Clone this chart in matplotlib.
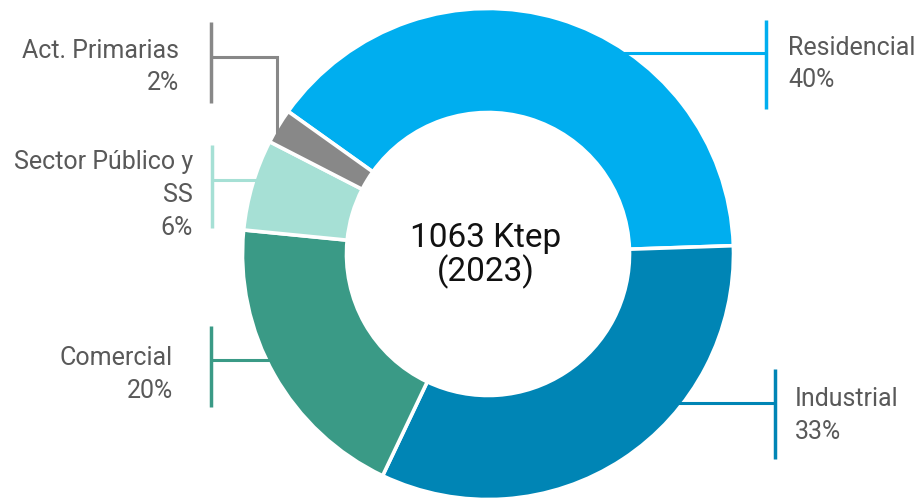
import matplotlib.pyplot as plt

W, H = 920, 498

sectors = ["Residencial", "Industrial", "Comercial", "Sector Público y\nSS", "Act. Primarias"]
shares = [39.6, 32.6, 19.5, 6.0, 2.3]
share_labels = ["40%", "33%", "20%", "6%", "2%"]
colors = ["#00AEEF", "#0085B5", "#3A9A86", "#A6E0D5", "#888888"]
total_text = ["1063 Ktep", "(2023)"]

# ring geometry in pixels (y measured from the top of the image)
cx, cy_top, r_out, ring = 488, 254, 245.5, 104
cy = H - cy_top

# leader layout: side, bar x, bar top, bar bottom, elbow y, text x, first baseline, elbow x
leaders = [
    ("right", 766, 20, 109, 53, 788, 54.5, None),
    ("right", 775, 369, 459, 403, 795, 406.5, None),
    ("left", 211, 326, 407, 360, 173, 365, None),
    ("left", 212, 145, 228, 180, 193, 169, None),
    ("left", 211, 22, 103, 57, 179, 57.5, 277),
]
line_step = 32.8

plt.rcParams["font.family"] = ["Roboto", "DejaVu Sans"]

fig = plt.figure(figsize=(W / 100, H / 100), dpi=100)
ax = fig.add_axes([0, 0, 1, 1])

ax.pie(shares, colors=colors, startangle=144.5, counterclock=False,
       center=(cx, cy), radius=r_out, explode=[0.012, 0, 0, 0, 0],
       wedgeprops=dict(width=ring, edgecolor="white", linewidth=2.6))

for (side, bx, btop, bbot, ey, tx, base, elx), name, pct, col in zip(
        leaders, sectors, share_labels, colors):
    ax.plot([bx, bx], [H - btop, H - bbot], color=col, lw=2.5,
            solid_capstyle="butt", zorder=3)
    dy = (H - ey) - cy
    if elx is None:
        reach = (r_out ** 2 - dy ** 2) ** 0.5 - 8
        end = cx + reach if side == "right" else cx - reach
        ax.plot([bx, end], [H - ey, H - ey], color=col, lw=2.2,
                solid_capstyle="butt", zorder=3)
    else:
        dx = elx - cx
        yend = cy + (r_out ** 2 - dx ** 2) ** 0.5 - 6
        ax.plot([bx, elx, elx], [H - ey, H - ey, yend], color=col, lw=2.2,
                solid_capstyle="butt", solid_joinstyle="miter", zorder=3)
    lines = name.split("\n") + [pct]
    for i, txt in enumerate(lines):
        ax.text(tx, H - (base + i * line_step), txt, fontsize=18,
                color="#595959", ha="left" if side == "right" else "right",
                va="baseline")

for i, txt in enumerate(total_text):
    ax.text(486, H - (246.5 + i * 35), txt, fontsize=24, color="#111111",
            ha="center", va="baseline")

ax.set_xlim(0, W)
ax.set_ylim(0, H)
ax.set_aspect("equal")
ax.axis("off")

fig.savefig("out.png", dpi=100, facecolor="white")
